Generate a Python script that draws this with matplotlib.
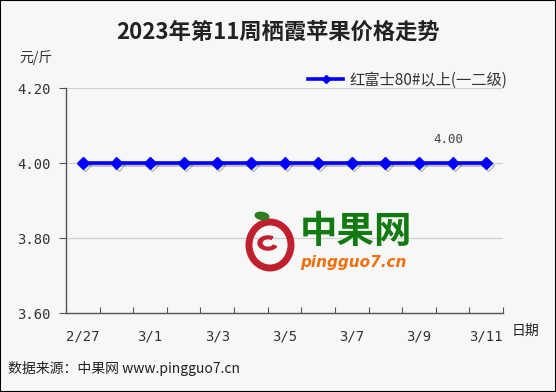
import matplotlib
matplotlib.use("Agg")
import matplotlib.pyplot as plt
import matplotlib.patheffects as pe
from matplotlib.patches import Rectangle, Ellipse, Wedge

plt.rcParams['font.family'] = ['Noto Sans CJK SC', 'DejaVu Sans']

dates = ["2/27", "2/28", "3/1", "3/2", "3/3", "3/4", "3/5", "3/6", "3/7", "3/8", "3/9", "3/10", "3/11"]
prices = [4.00, 4.00, 4.00, 4.00, 4.00, 4.00, 4.00, 4.00, 4.00, 4.00, 4.00, 4.00, 4.00]
yticks = [3.60, 3.80, 4.00, 4.20]
series_name = "红富士80#以上(一二级)"
label_index = 11

W, H = 556, 392
fig = plt.figure(figsize=(W / 100, H / 100), dpi=100)
fig.patch.set_facecolor('#f7f7f7')
fig.patches.append(Rectangle((0, 0), 1, 1, transform=fig.transFigure, fill=False,
                             edgecolor='black', linewidth=1.5))

ax = fig.add_axes([66 / W, 1 - 313 / H, (503 - 66) / W, (313 - 88) / H])
ax.set_facecolor('#f7f7f7')
x = list(range(len(dates)))
ax.set_xlim(-0.5, len(dates) - 0.5)
ax.set_ylim(3.60, 4.20)

for yv in yticks[1:]:
    ax.axhline(yv, color='#d0d0d0', linewidth=0.9, zorder=1)

ax.plot(x, prices, color='#0000ff', linewidth=2.6, marker='D', markersize=6,
        markerfacecolor='#0000ff', markeredgecolor='#0000ff', zorder=5,
        path_effects=[pe.SimpleLineShadow(offset=(1.5, -1.5), shadow_color='black', alpha=0.25,
                                          rho=0.5),
                      pe.Normal()])

ax.annotate(f"{prices[label_index]:.2f}", (x[label_index], prices[label_index]),
            xytext=(-3, 12), textcoords='offset points', ha='center', va='bottom',
            fontsize=9, color='#444444', family=['DejaVu Sans Mono'])

ax.set_yticks(yticks)
ax.set_yticklabels([f"{v:.2f}" for v in yticks], family=['DejaVu Sans Mono'],
                   fontsize=10, color='#333333')
ax.set_xticks([i + 0.5 for i in range(-1, len(dates))], minor=False)
ax.set_xticklabels([])
ax.set_xticks(x[::2], minor=True)
ax.set_xticklabels(dates[::2], minor=True, family=['DejaVu Sans Mono'],
                   fontsize=10, color='#333333')
ax.tick_params(axis='x', which='minor', length=0, pad=12)
ax.tick_params(axis='x', which='major', length=4, color='#555555', direction='in')
ax.tick_params(axis='y', length=5, color='#555555', pad=6)

for s in ['top', 'right']:
    ax.spines[s].set_visible(False)
for s in ['left', 'bottom']:
    ax.spines[s].set_color('#555555')
    ax.spines[s].set_linewidth(1.0)

# legend
ax.plot([], [], color='#0000ff', linewidth=2.6, marker='D', markersize=4.5, label=series_name)
leg = fig.legend(loc='center left', bbox_to_anchor=(302 / W, 1 - 80 / H), frameon=False,
                 fontsize=11, handlelength=2.3, handletextpad=0.4, borderaxespad=0)
for t in leg.get_texts():
    t.set_color('#333333')

# titles and labels
fig.text(0.5, 1 - 32 / H, "2023年第11周栖霞苹果价格走势", ha='center', va='center',
         fontsize=16, fontweight='bold', color='#222222')
fig.text(36 / W, 1 - 58 / H, "元/斤", ha='center', va='center', fontsize=10, color='#333333')
fig.text(525 / W, 1 - 331 / H, "日期", ha='center', va='center', fontsize=10, color='#222222')
fig.text(8 / W, 1 - 368 / H, "数据来源：中果网 www.pingguo7.cn", ha='left', va='center',
         fontsize=10, color='#222222')

# watermark logo
fig.text(300 / W, 1 - 231 / H, "中果网", ha='left', va='center', fontsize=27,
         fontweight='bold', color='#117a11')
fig.text(300 / W, 1 - 263 / H, "pingguo7.cn", ha='left', va='center', fontsize=11,
         fontweight='bold', style='italic', color='#f07010', family=['DejaVu Sans'])
apple = Ellipse((270 / W, 1 - 245 / H), 42 / W, 46 / H, transform=fig.transFigure,
                fill=False, edgecolor='#c0202e', linewidth=5)
fig.patches.append(apple)
inner = Wedge((268 / W, 1 - 243 / H), 0.018, 60, 330, transform=fig.transFigure,
              width=0.007, color='#c0202e')
fig.patches.append(inner)
leaf = Ellipse((262 / W, 1 - 216 / H), 14 / W, 7 / H, angle=-20, transform=fig.transFigure,
               color='#2e7d1e')
fig.patches.append(leaf)

fig.savefig("out.png", dpi=100, facecolor=fig.get_facecolor())
